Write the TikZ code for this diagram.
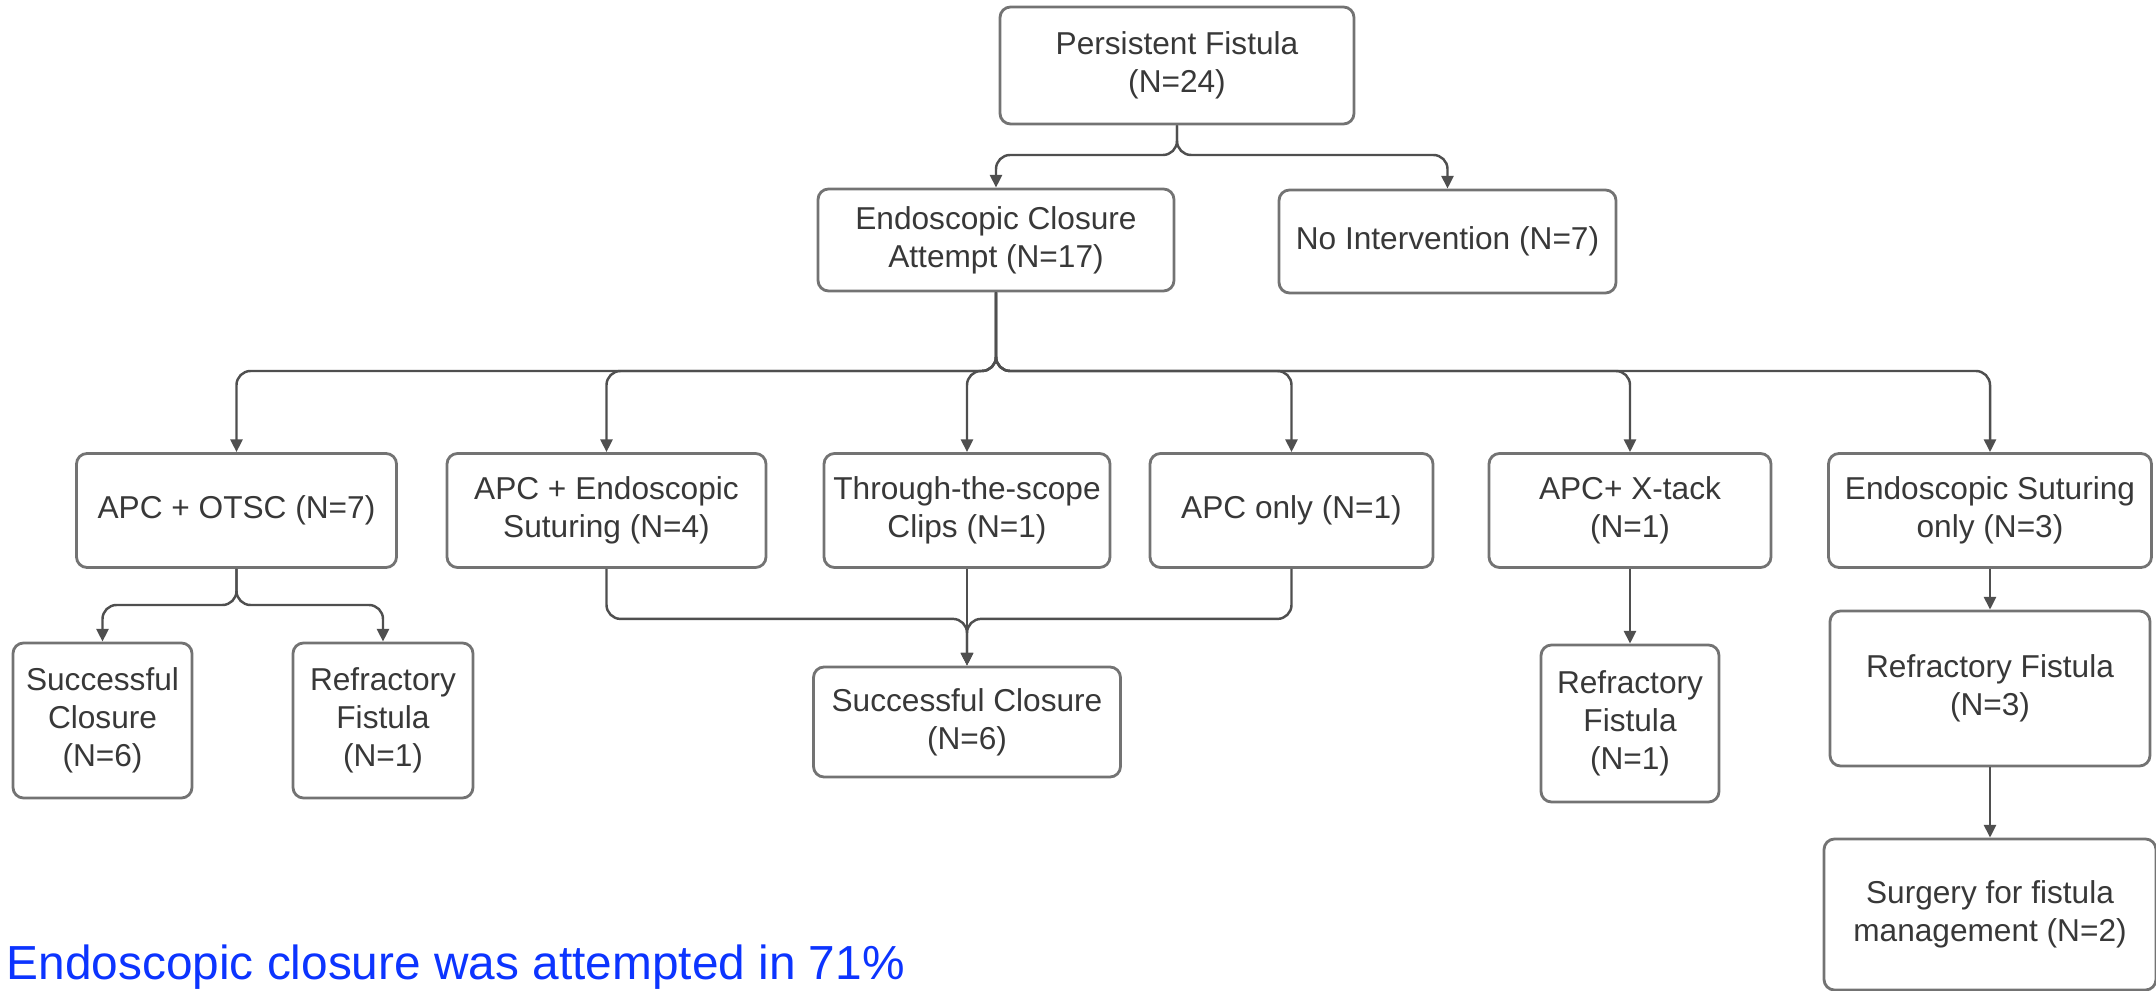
\documentclass[tikz,border=0pt]{standalone}
\usepackage{fontspec}
\setmainfont{Liberation Sans}
\usetikzlibrary{arrows.meta}
\definecolor{boxgray}{HTML}{737373}
\definecolor{linegray}{HTML}{4F4F4F}
\definecolor{textgray}{HTML}{383838}
\definecolor{noteblue}{RGB}{12,52,255}

\begin{document}
\begin{tikzpicture}[
    box/.style={draw=boxgray, line width=0.8pt, rounded corners=3pt, align=center,
      inner sep=0pt, text=textgray, font=\fontsize{9}{10.9}\selectfont},
    link/.style={draw=linegray, line width=0.7pt, rounded corners=4pt,
      -{Triangle[length=3.6pt,width=3.4pt]}}
  ]
  \def\rowy{-5.105}
  \def\rowh{1.14cm}
  \useasboundingbox (0,0) rectangle (21.56,-9.91);

  % top levels
  \node[box, minimum width=3.54cm, minimum height=1.17cm] (pf) at (11.77,-0.655) {Persistent Fistula\\(N=24)};
  \node[box, minimum width=3.56cm, minimum height=1.02cm] (eca) at (9.96,-2.40) {Endoscopic Closure\\Attempt (N=17)};
  \node[box, minimum width=3.37cm, minimum height=1.03cm] (ni) at (14.475,-2.415) {No Intervention (N=7)};

  % closure techniques
  \node[box, minimum width=3.20cm, minimum height=\rowh] (aotsc) at (2.365,\rowy) {APC + OTSC (N=7)};
  \node[box, minimum width=3.19cm, minimum height=\rowh] (aes) at (6.065,\rowy) {APC + Endoscopic\\Suturing (N=4)};
  \node[box, minimum width=2.86cm, minimum height=\rowh] (tts) at (9.67,\rowy) {Through-the-scope\\Clips (N=1)};
  \node[box, minimum width=2.83cm, minimum height=\rowh] (aonly) at (12.915,\rowy) {APC only (N=1)};
  \node[box, minimum width=2.82cm, minimum height=\rowh] (axt) at (16.30,\rowy) {APC+ X-tack\\(N=1)};
  \node[box, minimum width=3.23cm, minimum height=\rowh] (eso) at (19.90,\rowy) {Endoscopic Suturing\\only (N=3)};

  % outcomes
  \node[box, minimum width=1.79cm, minimum height=1.55cm] (sc1) at (1.025,-7.205) {Successful\\Closure\\(N=6)};
  \node[box, minimum width=1.80cm, minimum height=1.55cm] (rf1) at (3.83,-7.205) {Refractory\\Fistula\\(N=1)};
  \node[box, minimum width=3.07cm, minimum height=1.10cm] (sc2) at (9.67,-7.22) {Successful Closure\\(N=6)};
  \node[box, minimum width=1.78cm, minimum height=1.57cm] (rf2) at (16.30,-7.235) {Refractory\\Fistula\\(N=1)};
  \node[box, minimum width=3.20cm, minimum height=1.55cm] (rf3) at (19.90,-6.885) {Refractory Fistula\\(N=3)};
  \node[box, minimum width=3.32cm, minimum height=1.51cm] (surg) at (19.90,-9.145) {Surgery for fistula\\management (N=2)};

  \node[anchor=base west, inner sep=0pt, text=noteblue, font=\fontsize{13.6}{16}\selectfont] (note) at (0.06,-9.79) {Endoscopic closure was attempted in 71\%};

  % split points
  \coordinate (split1) at (11.77,-1.55);
  \coordinate (split2) at (9.96,-3.71);
  \coordinate (split3) at (2.365,-6.05);

  \draw[link] (pf.south) -- (split1) -| (eca.north);
  \draw[link] (pf.south) -- (split1) -| (ni.north);
  \foreach \t in {aotsc,aes,tts,aonly,axt,eso}
    \draw[link] (eca.south) -- (split2) -| (\t.north);
  \draw[link] (aotsc.south) -- (split3) -| (sc1.north);
  \draw[link] (aotsc.south) -- (split3) -| (rf1.north);

  % merge into one outcome
  \draw[link] (aes.south) -- ++(0,-0.5) -| (sc2.north);
  \draw[link] (aonly.south) -- ++(0,-0.5) -| (sc2.north);
  \draw[link] (tts.south) -- (sc2.north);

  \draw[link] (axt.south) -- (rf2.north);
  \draw[link] (eso.south) -- (rf3.north);
  \draw[link] (rf3.south) -- (surg.north);
\end{tikzpicture}
\end{document}
